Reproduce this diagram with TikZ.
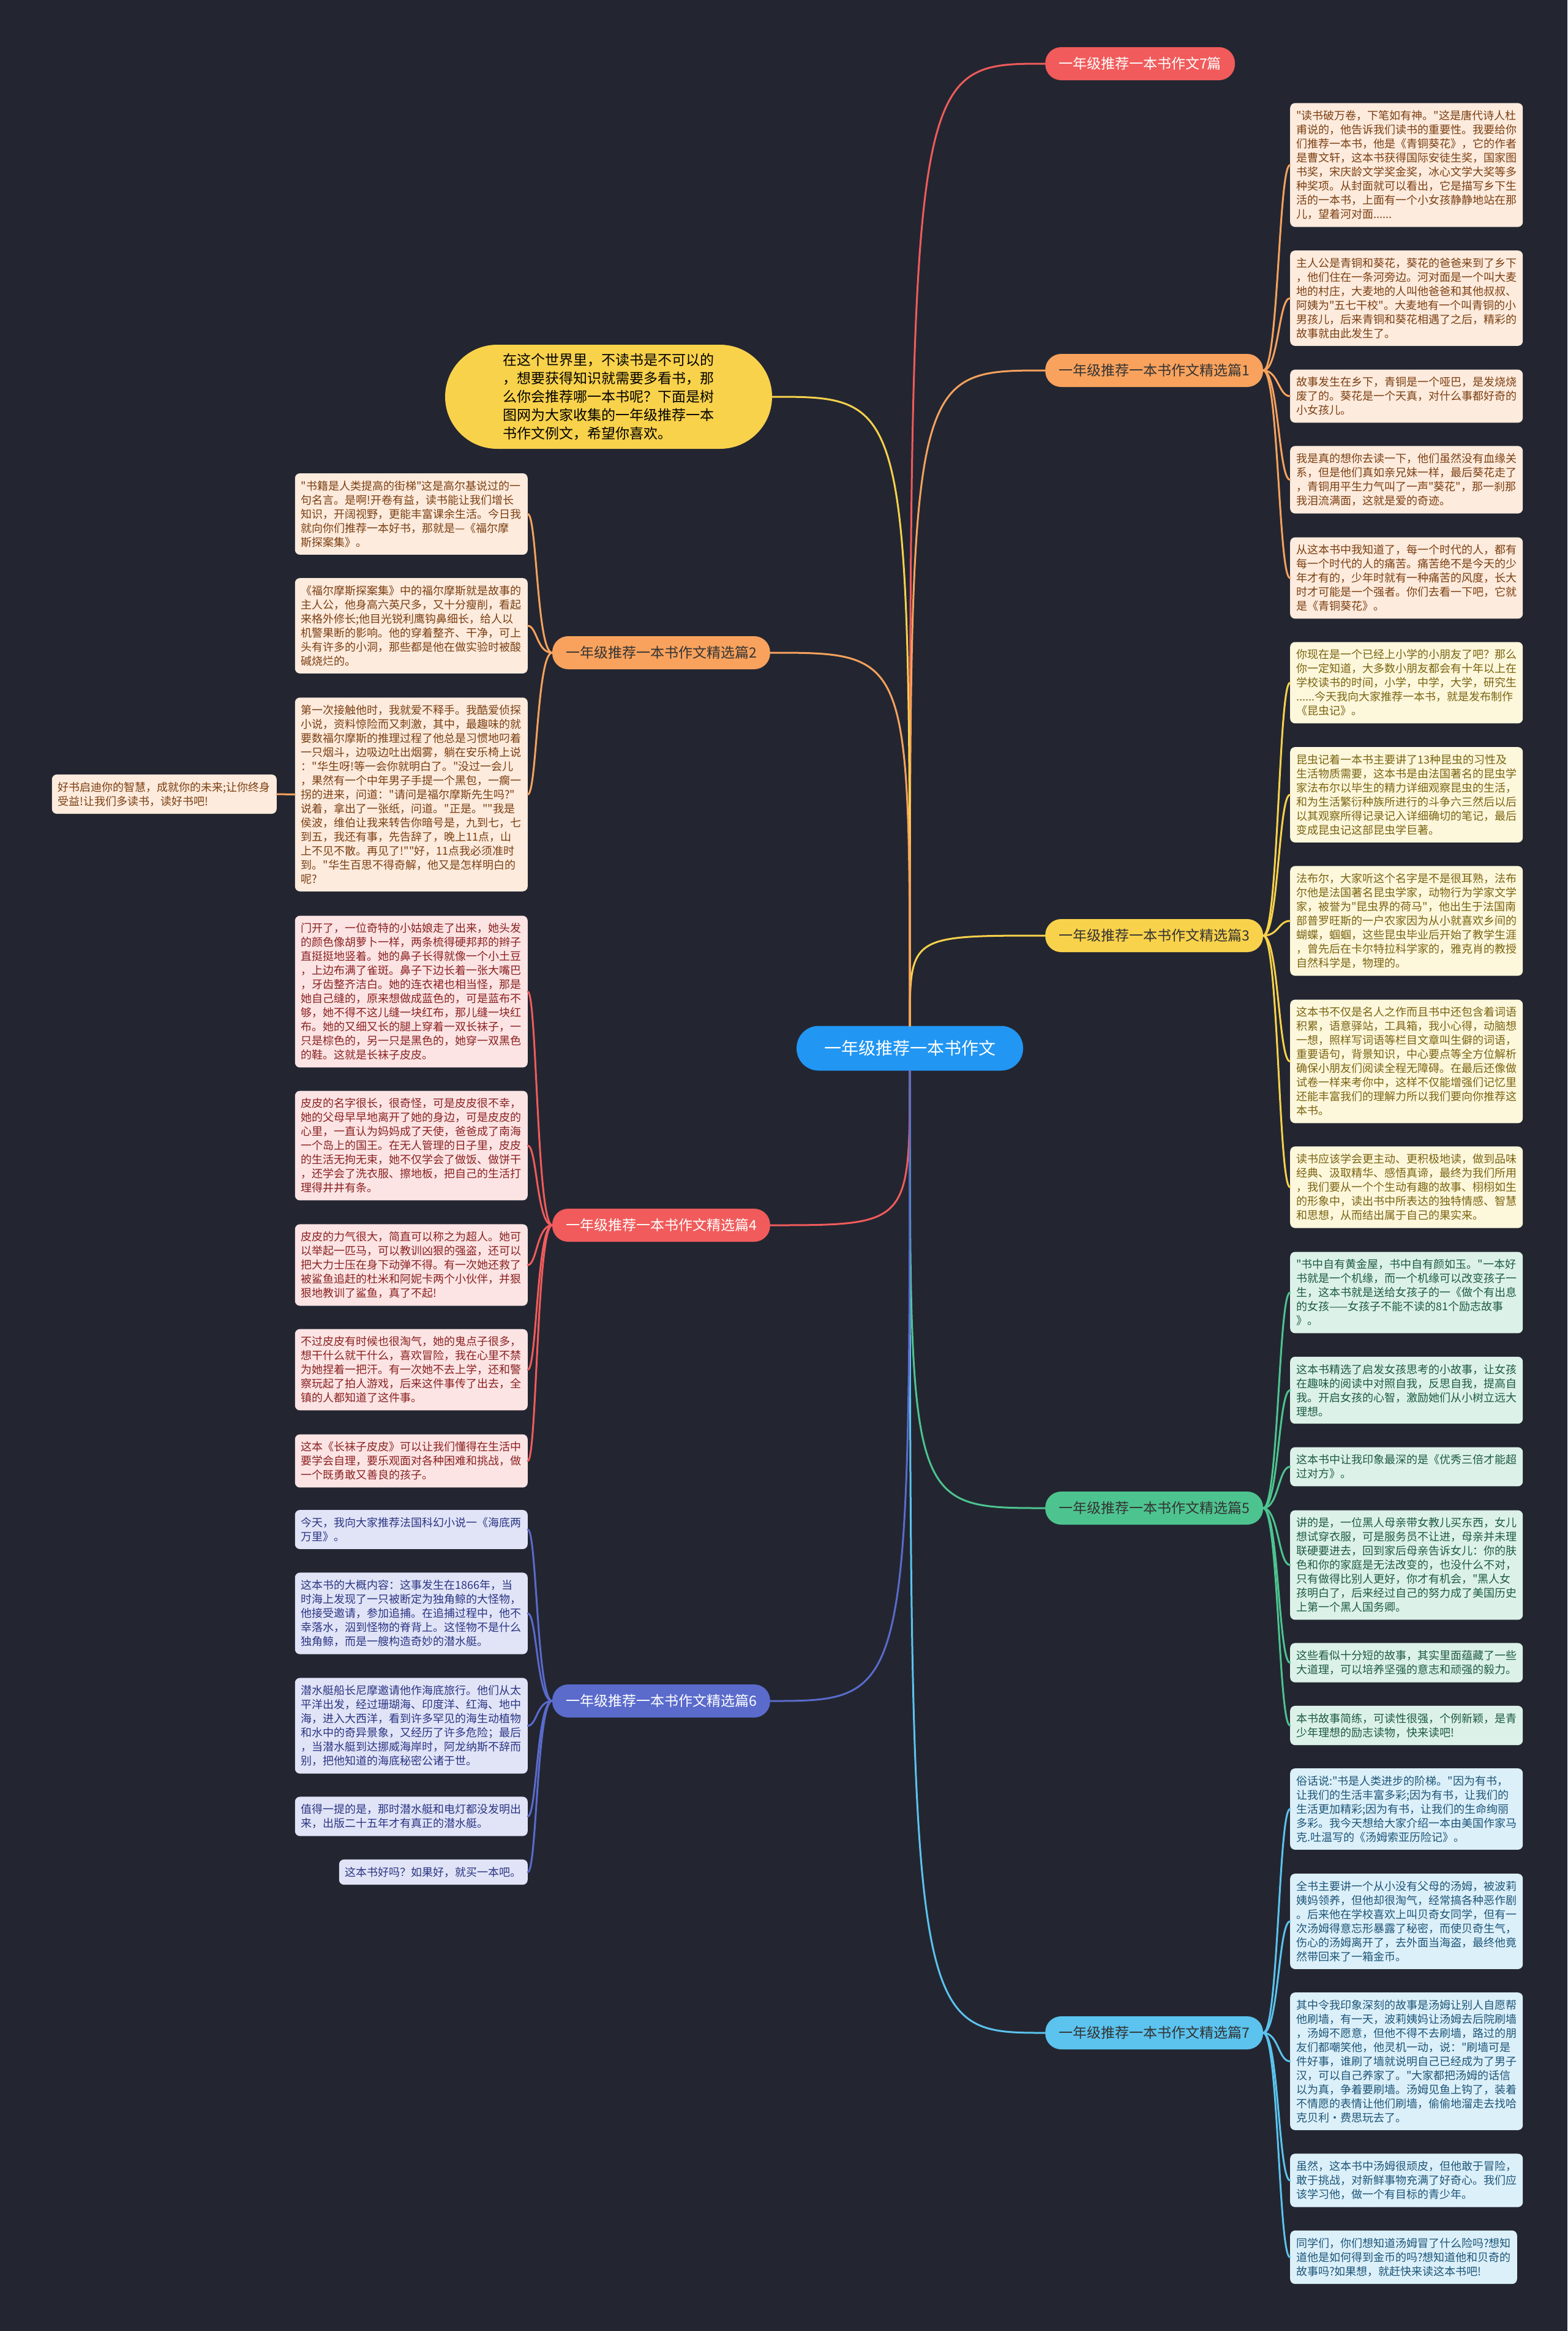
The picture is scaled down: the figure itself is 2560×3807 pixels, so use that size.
\documentclass[tikz,border=0pt]{standalone}
\usepackage{fontspec}
\newfontfamily\cjk{Noto Sans CJK SC}
\usetikzlibrary{calc}
\definecolor{bg}{HTML}{232631}
\definecolor{cred}{HTML}{F15B5B}
\definecolor{corange}{HTML}{F8A25D}
\definecolor{cyellow}{HTML}{F9D24B}
\definecolor{cgreen}{HTML}{4DC48F}
\definecolor{cblue}{HTML}{5BC3EE}
\definecolor{cindigo}{HTML}{5A6BCC}
\definecolor{ccenter}{HTML}{2196F3}
\definecolor{fo}{HTML}{FDEBDD}\definecolor{to}{HTML}{7B3F12}
\definecolor{fy}{HTML}{FDF7DC}\definecolor{ty}{HTML}{7A6410}
\definecolor{fg}{HTML}{DCF2E8}\definecolor{tg}{HTML}{1E5A43}
\definecolor{fb}{HTML}{DCF0FA}\definecolor{tb}{HTML}{1D5577}
\definecolor{fp}{HTML}{FCE4E4}\definecolor{tp}{HTML}{8B2121}
\definecolor{fi}{HTML}{E1E4F7}\definecolor{ti}{HTML}{2B3583}
\definecolor{darktext}{HTML}{333333}
\tikzset{
  leaf/.style={rounded corners=8pt, inner xsep=10pt, inner ysep=12pt, align=left, font=\cjk\fontsize{18}{23}\selectfont},
  oleaf/.style={leaf, fill=fo, text=to},
  yleaf/.style={leaf, fill=fy, text=ty},
  gleaf/.style={leaf, fill=fg, text=tg},
  bleaf/.style={leaf, fill=fb, text=tb},
  pleaf/.style={leaf, fill=fp, text=tp},
  ileaf/.style={leaf, fill=fi, text=ti},
  rleaf/.style={anchor=west},
  lleaf/.style={anchor=east},
  br/.style={rounded corners=26pt, minimum height=54pt, inner xsep=22pt, font=\cjk\fontsize{23}{28}\selectfont},
  conn/.style={line width=3pt, line cap=round},
}
\begin{document}
\begin{tikzpicture}[x=1pt,y=-1pt]
\fill[bg] (0,0) rectangle (2560,3807);
\useasboundingbox (0,0) rectangle (2560,3807);

% centre
\node[fill=ccenter, text=white, rounded corners=36pt, minimum height=73pt, inner xsep=45pt, font=\cjk\fontsize{28}{32}\selectfont] (c) at (1486,1712) {一年级推荐一本书作文};

% bubble
\node[fill=cyellow, text=black, rounded corners=85pt, minimum width=534pt, minimum height=170pt, align=left, font=\cjk\fontsize{23}{30}\selectfont] (bub) at (994,648) {在这个世界里，不读书是不可以的\\，想要获得知识就需要多看书，那\\么你会推荐哪一本书呢？下面是树\\图网为大家收集的一年级推荐一本\\书作文例文，希望你喜欢。};

% branches right
\node[br, fill=cred, text=white, anchor=west] (b7p) at (1707,104) {一年级推荐一本书作文7篇};
\node[br, fill=corange, text=darktext, anchor=west] (b1) at (1707,605) {一年级推荐一本书作文精选篇1};
\node[br, fill=cyellow, text=darktext, anchor=west] (b3) at (1707,1528) {一年级推荐一本书作文精选篇3};
\node[br, fill=cgreen, text=darktext, anchor=west] (b5) at (1707,2463) {一年级推荐一本书作文精选篇5};
\node[br, fill=cblue, text=darktext, anchor=west] (b7) at (1707,3320) {一年级推荐一本书作文精选篇7};
% branches left
\node[br, fill=corange, text=darktext, anchor=east] (b2) at (1258,1066) {一年级推荐一本书作文精选篇2};
\node[br, fill=cred, text=white, anchor=east] (b4) at (1258,2001) {一年级推荐一本书作文精选篇4};
\node[br, fill=cindigo, text=white, anchor=east] (b6) at (1258,2778) {一年级推荐一本书作文精选篇6};

% leaves branch 1
\node[oleaf, rleaf] (r1a) at (2107,269.5) {"读书破万卷，下笔如有神。"这是唐代诗人杜\\甫说的，他告诉我们读书的重要性。我要给你\\们推荐一本书，他是《青铜葵花》，它的作者\\是曹文轩，这本书获得国际安徒生奖，国家图\\书奖，宋庆龄文学奖金奖，冰心文学大奖等多\\种奖项。从封面就可以看出，它是描写乡下生\\活的一本书，上面有一个小女孩静静地站在那\\儿，望着河对面......};
\node[oleaf, rleaf] (r1b) at (2107,487) {主人公是青铜和葵花，葵花的爸爸来到了乡下\\，他们住在一条河旁边。河对面是一个叫大麦\\地的村庄，大麦地的人叫他爸爸和其他叔叔、\\阿姨为"五七干校"。大麦地有一个叫青铜的小\\男孩儿，后来青铜和葵花相遇了之后，精彩的\\故事就由此发生了。};
\node[oleaf, rleaf] (r1c) at (2107,647) {故事发生在乡下，青铜是一个哑巴，是发烧烧\\废了的。葵花是一个天真，对什么事都好奇的\\小女孩儿。};
\node[oleaf, rleaf] (r1d) at (2107,783.5) {我是真的想你去读一下，他们虽然没有血缘关\\系，但是他们真如亲兄妹一样，最后葵花走了\\，青铜用平生力气叫了一声"葵花"，那一刹那\\我泪流满面，这就是爱的奇迹。};
\node[oleaf, rleaf] (r1e) at (2107,944) {从这本书中我知道了，每一个时代的人，都有\\每一个时代的人的痛苦。痛苦绝不是今天的少\\年才有的，少年时就有一种痛苦的风度，长大\\时才可能是一个强者。你们去看一下吧，它就\\是《青铜葵花》。};

% leaves branch 3
\node[yleaf, rleaf] (r3a) at (2107,1115) {你现在是一个已经上小学的小朋友了吧？那么\\你一定知道，大多数小朋友都会有十年以上在\\学校读书的时间，小学，中学，大学，研究生\\......今天我向大家推荐一本书，就是发布制作\\《昆虫记》。};
\node[yleaf, rleaf] (r3b) at (2107,1298) {昆虫记着一本书主要讲了13种昆虫的习性及\\生活物质需要，这本书是由法国著名的昆虫学\\家法布尔以毕生的精力详细观察昆虫的生活，\\和为生活繁衍种族所进行的斗争六三然后以后\\以其观察所得记录记入详细确切的笔记，最后\\变成昆虫记这部昆虫学巨著。};
\node[yleaf, rleaf] (r3c) at (2107,1504) {法布尔，大家听这个名字是不是很耳熟，法布\\尔他是法国著名昆虫学家，动物行为学家文学\\家，被誉为"昆虫界的荷马"，他出生于法国南\\部普罗旺斯的一户农家因为从小就喜欢乡间的\\蝴蝶，蝈蝈，这些昆虫毕业后开始了教学生涯\\，曾先后在卡尔特拉科学家的，雅克肖的教授\\自然科学是，物理的。};
\node[yleaf, rleaf] (r3d) at (2107,1733.5) {这本书不仅是名人之作而且书中还包含着词语\\积累，语意驿站，工具箱，我小心得，动脑想\\一想，照样写词语等栏目文章叫生僻的词语，\\重要语句，背景知识，中心要点等全方位解析\\确保小朋友们阅读全程无障碍。在最后还像做\\试卷一样来考你中，这样不仅能增强们记忆里\\还能丰富我们的理解力所以我们要向你推荐这\\本书。};
\node[yleaf, rleaf] (r3e) at (2107,1939) {读书应该学会更主动、更积极地读，做到品味\\经典、汲取精华、感悟真谛，最终为我们所用\\，我们要从一个个生动有趣的故事、栩栩如生\\的形象中，读出书中所表达的独特情感、智慧\\和思想，从而结出属于自己的果实来。};

% leaves branch 5
\node[gleaf, rleaf] (r5a) at (2107,2111) {"书中自有黄金屋，书中自有颜如玉。"一本好\\书就是一个机缘，而一个机缘可以改变孩子一\\生，这本书就是送给女孩子的一《做个有出息\\的女孩——女孩子不能不读的81个励志故事\\》。};
\node[gleaf, rleaf] (r5b) at (2107,2270.5) {这本书精选了启发女孩思考的小故事，让女孩\\在趣味的阅读中对照自我，反思自我，提高自\\我。开启女孩的心智，激励她们从小树立远大\\理想。};
\node[gleaf, rleaf] (r5c) at (2107,2395.5) {这本书中让我印象最深的是《优秀三倍才能超\\过对方》。};
\node[gleaf, rleaf] (r5d) at (2107,2556) {讲的是，一位黑人母亲带女教儿买东西，女儿\\想试穿衣服，可是服务员不让进，母亲并未理\\联硬要进去，回到家后母亲告诉女儿：你的肤\\色和你的家庭是无法改变的，也没什么不对，\\只有做得比别人更好，你才有机会，"黑人女\\孩明白了，后来经过自己的努力成了美国历史\\上第一个黑人国务卿。};
\node[gleaf, rleaf] (r5e) at (2107,2715.5) {这些看似十分短的故事，其实里面蕴藏了一些\\大道理，可以培养坚强的意志和顽强的毅力。};
\node[gleaf, rleaf] (r5f) at (2107,2818) {本书故事简练，可读性很强，个例新颖，是青\\少年理想的励志读物，快来读吧!};

% leaves branch 7
\node[bleaf, rleaf] (r7a) at (2107,2954.5) {俗话说:"书是人类进步的阶梯。"因为有书，\\让我们的生活丰富多彩;因为有书，让我们的\\生活更加精彩;因为有书，让我们的生命绚丽\\多彩。我今天想给大家介绍一本由美国作家马\\克.吐温写的《汤姆索亚历险记》。};
\node[bleaf, rleaf] (r7b) at (2107,3138) {全书主要讲一个从小没有父母的汤姆，被波莉\\姨妈领养，但他却很淘气，经常搞各种恶作剧\\。后来他在学校喜欢上叫贝奇女同学，但有一\\次汤姆得意忘形暴露了秘密，而使贝奇生气，\\伤心的汤姆离开了，去外面当海盗，最终他竟\\然带回来了一箱金币。};
\node[bleaf, rleaf] (r7c) at (2107,3366.5) {其中令我印象深刻的故事是汤姆让别人自愿帮\\他刷墙，有一天，波莉姨妈让汤姆去后院刷墙\\，汤姆不愿意，但他不得不去刷墙，路过的朋\\友们都嘲笑他，他灵机一动，说："刷墙可是\\件好事，谁刷了墙就说明自己已经成为了男子\\汉，可以自己养家了。"大家都把汤姆的话信\\以为真，争着要刷墙。汤姆见鱼上钩了，装着\\不情愿的表情让他们刷墙，偷偷地溜走去找哈\\克贝利·费思玩去了。};
\node[bleaf, rleaf] (r7d) at (2107,3561) {虽然，这本书中汤姆很顽皮，但他敢于冒险，\\敢于挑战，对新鲜事物充满了好奇心。我们应\\该学习他，做一个有目标的青少年。};
\node[bleaf, rleaf] (r7e) at (2107,3686.5) {同学们，你们想知道汤姆冒了什么险吗?想知\\道他是如何得到金币的吗?想知道他和贝奇的\\故事吗?如果想，就赶快来读这本书吧!};

% leaves branch 2
\node[oleaf, lleaf] (l2a) at (862,839.5) {"书籍是人类提高的街梯"这是高尔基说过的一\\句名言。是啊!开卷有益，读书能让我们增长\\知识，开阔视野，更能丰富课余生活。今日我\\就向你们推荐一本好书，那就是—《福尔摩\\斯探案集》。};
\node[oleaf, lleaf] (l2b) at (862,1022) {《福尔摩斯探案集》中的福尔摩斯就是故事的\\主人公，他身高六英尺多，又十分瘦削，看起\\来格外修长;他目光锐利鹰钩鼻细长，给人以\\机警果断的影响。他的穿着整齐、干净，可上\\头有许多的小洞，那些都是他在做实验时被酸\\碱烧烂的。};
\node[oleaf, lleaf] (l2c) at (862,1297.5) {第一次接触他时，我就爱不释手。我酷爱侦探\\小说，资料惊险而又刺激，其中，最趣味的就\\要数福尔摩斯的推理过程了他总是习惯地叼着\\一只烟斗，边吸边吐出烟雾，躺在安乐椅上说\\："华生呀!等一会你就明白了。"没过一会儿\\，果然有一个中年男子手提一个黑包，一瘸一\\拐的进来，问道："请问是福尔摩斯先生吗?"\\说着，拿出了一张纸，问道。"正是。""我是\\侯波，维伯让我来转告你暗号是，九到七，七\\到五，我还有事，先告辞了，晚上11点，山\\上不见不散。再见了!""好，11点我必须准时\\到。"华生百思不得奇解，他又是怎样明白的\\呢?};
\node[oleaf, lleaf] (sb) at (452,1297) {好书启迪你的智慧，成就你的未来;让你终身\\受益!让我们多读书，读好书吧!};

% leaves branch 4
\node[pleaf, lleaf] (l4a) at (862,1619.5) {门开了，一位奇特的小姑娘走了出来，她头发\\的颜色像胡萝卜一样，两条梳得硬邦邦的辫子\\直挺挺地竖着。她的鼻子长得就像一个小土豆\\，上边布满了雀斑。鼻子下边长着一张大嘴巴\\，牙齿整齐洁白。她的连衣裙也相当怪，那是\\她自己缝的，原来想做成蓝色的，可是蓝布不\\够，她不得不这儿缝一块红布，那儿缝一块红\\布。她的又细又长的腿上穿着一双长袜子，一\\只是棕色的，另一只是黑色的，她穿一双黑色\\的鞋。这就是长袜子皮皮。};
\node[pleaf, lleaf] (l4b) at (862,1871) {皮皮的名字很长，很奇怪，可是皮皮很不幸，\\她的父母早早地离开了她的身边，可是皮皮的\\心里，一直认为妈妈成了天使，爸爸成了南海\\一个岛上的国王。在无人管理的日子里，皮皮\\的生活无拘无束，她不仅学会了做饭、做饼干\\，还学会了洗衣服、擦地板，把自己的生活打\\理得井井有条。};
\node[pleaf, lleaf] (l4c) at (862,2066) {皮皮的力气很大，简直可以称之为超人。她可\\以举起一匹马，可以教训凶狠的强盗，还可以\\把大力士压在身下动弹不得。有一次她还救了\\被鲨鱼追赶的杜米和阿妮卡两个小伙伴，并狠\\狠地教训了鲨鱼，真了不起!};
\node[pleaf, lleaf] (l4d) at (862,2237) {不过皮皮有时候也很淘气，她的鬼点子很多，\\想干什么就干什么，喜欢冒险，我在心里不禁\\为她捏着一把汗。有一次她不去上学，还和警\\察玩起了拍人游戏，后来这件事传了出去，全\\镇的人都知道了这件事。};
\node[pleaf, lleaf] (l4e) at (862,2386) {这本《长袜子皮皮》可以让我们懂得在生活中\\要学会自理，要乐观面对各种困难和挑战，做\\一个既勇敢又善良的孩子。};

% leaves branch 6
\node[ileaf, lleaf] (l6a) at (862,2498) {今天，我向大家推荐法国科幻小说一《海底两\\万里》。};
\node[ileaf, lleaf] (l6b) at (862,2635) {这本书的大概内容：这事发生在1866年，当\\时海上发现了一只被断定为独角鲸的大怪物，\\他接受邀请，参加追捕。在追捕过程中，他不\\幸落水，泅到怪物的脊背上。这怪物不是什么\\独角鲸，而是一艘构造奇妙的潜水艇。};
\node[ileaf, lleaf] (l6c) at (862,2818.5) {潜水艇船长尼摩邀请他作海底旅行。他们从太\\平洋出发，经过珊瑚海、印度洋、红海、地中\\海，进入大西洋，看到许多罕见的海生动植物\\和水中的奇异景象，又经历了许多危险；最后\\，当潜水艇到达挪威海岸时，阿龙纳斯不辞而\\别，把他知道的海底秘密公诸于世。};
\node[ileaf, lleaf] (l6d) at (862,2966.5) {值得一提的是，那时潜水艇和电灯都没发明出\\来，出版二十五年才有真正的潜水艇。};
\node[ileaf, lleaf] (l6e) at (862,3057.5) {这本书好吗？如果好，就买一本吧。};

% centre to branches
\foreach \b/\col in {b7p/cred, b1/corange, b3/cyellow}
  \draw[conn, \col] (c.north) .. controls (c.north |- \b.west) .. (\b.west);
\foreach \b/\col in {b5/cgreen, b7/cblue}
  \draw[conn, \col] (c.south) .. controls (c.south |- \b.west) .. (\b.west);
\foreach \b/\col in {bub/cyellow, b2/corange}
  \draw[conn, \col] (c.north) .. controls (c.north |- \b.east) .. (\b.east);
\foreach \b/\col in {b4/cred, b6/cindigo}
  \draw[conn, \col] (c.south) .. controls (c.south |- \b.east) .. (\b.east);

% branches to leaves (right)
\foreach \b/\col/\list in {b1/corange/{r1a,r1b,r1c,r1d,r1e}, b3/cyellow/{r3a,r3b,r3c,r3d,r3e}, b5/cgreen/{r5a,r5b,r5c,r5d,r5e,r5f}, b7/cblue/{r7a,r7b,r7c,r7d,r7e}}
  \foreach \n in \list
    \draw[conn, \col] (\b.east) .. controls ($(\b.east)+(25,0)$) and ($(\b.east |- \n.west)+(25,0)$) .. (\n.west);
% branches to leaves (left)
\foreach \b/\col/\list in {b2/corange/{l2a,l2b,l2c}, b4/cred/{l4a,l4b,l4c,l4d,l4e}, b6/cindigo/{l6a,l6b,l6c,l6d,l6e}}
  \foreach \n in \list
    \draw[conn, \col] (\b.west) .. controls ($(\b.west)+(-25,0)$) and ($(\b.west |- \n.east)+(-25,0)$) .. (\n.east);
\draw[conn, corange] (l2c.west) -- (sb.east);
\end{tikzpicture}
\end{document}
